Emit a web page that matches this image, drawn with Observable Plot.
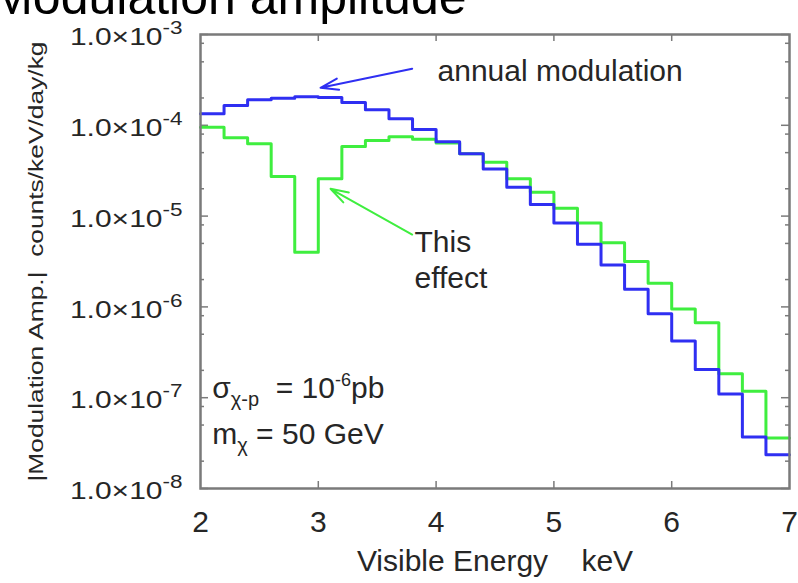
<!DOCTYPE html>
<html><head><meta charset="utf-8">
<script src="https://cdn.jsdelivr.net/npm/d3@7"></script>
<script src="https://cdn.jsdelivr.net/npm/@observablehq/plot@0.6"></script>
<style>
html,body{margin:0;padding:0;background:#fff;overflow:hidden;}
#chart svg{display:block;}
</style></head>
<body><div id="chart"></div>
<script>
// ---- data ----
const binStarts = [2.0,2.2,2.4,2.6,2.8,3.0,3.2,3.4,3.6,3.8,4.0,4.2,4.4,4.6,4.8,5.0,5.2,5.4,5.6,5.8,6.0,6.2,6.4,6.6,6.8];
const binEnd = 7.0;
const annualModulation = [1.34e-4,1.65e-4,1.91e-4,1.99e-4,2.06e-4,2.02e-4,1.78e-4,1.48e-4,1.18e-4,9.0e-5,6.6e-5,4.85e-5,3.3e-5,2.08e-5,1.34e-5,8.4e-6,4.9e-6,2.9e-6,1.56e-6,8.4e-7,4.2e-7,2.05e-7,1.1e-7,3.7e-8,2.35e-8];
const thisEffect = [9.5e-5,7.3e-5,6.25e-5,2.73e-5,4.0e-6,2.58e-5,5.85e-5,6.8e-5,7.5e-5,7.0e-5,6.4e-5,4.85e-5,3.93e-5,2.58e-5,1.83e-5,1.22e-5,8.4e-6,5.1e-6,3.16e-6,1.82e-6,9.5e-7,6.7e-7,1.83e-7,1.18e-7,3.6e-8];
const xTicks = [2,3,4,5,6,7];
const xInnerTicks = [3,4,5,6];
const yDecades = [1e-3,1e-4,1e-5,1e-6,1e-7,1e-8];
const yTickLabels = ["1.0×10^{-3}","1.0×10^{-4}","1.0×10^{-5}","1.0×10^{-6}","1.0×10^{-7}","1.0×10^{-8}"];
const yMinorMultipliers = [2,5,8];
const titleText = "Modulation amplitude";
const xLabel = "Visible Energy\u00a0\u00a0\u00a0\u00a0keV";
const yLabel = "|Modulation Amp.|\u00a0\u00a0counts/keV/day/kg";
const paramLines = ["σ_{χ-p}\u00a0\u00a0= 10^{-6}pb", "m_{χ} = 50 GeV"];
const paramX = [2.10, 2.10];
const paramY = [1.0e-7, 3.13e-8];
const annualLabel = {x: 4.012, y: 3.11e-4, text: "annual modulation"};
const effectLabel = {x: 3.817, y: 1.6e-6, text: "This\neffect"};
const annualArrow = {x1: 3.797, y1: 4.19e-4, x2: 3.019, y2: 2.59e-4};
const effectArrow = {x1: 3.797, y1: 6.27e-6, x2: 3.104, y2: 2.0e-5};

// ---- derived tables ----
const stepData = (vals) => binStarts.map((x, i) => ({x, y: vals[i]})).concat([{x: binEnd, y: vals[vals.length - 1]}]);
const blueData = stepData(annualModulation);
const greenData = stepData(thisEffect);
const minorY = yDecades.slice(1).flatMap(d => yMinorMultipliers.map(m => d * m));
const yTickTable = yDecades.map((v, i) => ({v, label: yTickLabels[i]}));
const params = paramLines.map((t, i) => ({x: paramX[i], y: paramY[i], t}));

const W = 798, H = 583, ML = 200, MR = 9, MT = 34, MB = 95;
const FW = W - ML - MR, FH = H - MT - MB;
const BLUE = "#2f2ff2", GREEN = "#3fee3f", AX = "#7a7a7a", TXT = "#262626";
const FONT = "'Liberation Sans', Arial, Helvetica, sans-serif";

const chart = Plot.plot({
  width: W, height: H,
  marginLeft: ML, marginRight: MR, marginTop: MT, marginBottom: MB,
  x: {domain: [2, 7], axis: null},
  y: {type: "log", domain: [1e-8, 1e-3], axis: null},
  style: {fontFamily: FONT, color: TXT, background: "white", overflow: "visible"},
  marks: [
    Plot.ruleY(minorY, {insetRight: FW - 4, stroke: AX, strokeWidth: 1.5}),
    Plot.ruleY(minorY, {insetLeft: FW - 4, stroke: AX, strokeWidth: 1.5}),
    Plot.ruleY(yDecades, {insetRight: FW - 8, stroke: AX, strokeWidth: 1.5}),
    Plot.ruleY(yDecades, {insetLeft: FW - 8, stroke: AX, strokeWidth: 1.5}),
    Plot.ruleX(xInnerTicks, {insetTop: FH - 7, stroke: AX, strokeWidth: 1.5}),
    Plot.ruleX(xInnerTicks, {insetBottom: FH - 7, stroke: AX, strokeWidth: 1.5}),
    Plot.line(greenData, {x: "x", y: "y", curve: "step-after", stroke: GREEN, strokeWidth: 3}),
    Plot.line(blueData, {x: "x", y: "y", curve: "step-after", stroke: BLUE, strokeWidth: 3}),
    Plot.frame({stroke: AX, strokeWidth: 2.5}),
    Plot.arrow([annualArrow], {x1: "x1", y1: "y1", x2: "x2", y2: "y2", stroke: BLUE, strokeWidth: 2, headLength: 14, headAngle: 35}),
    Plot.arrow([effectArrow], {x1: "x1", y1: "y1", x2: "x2", y2: "y2", stroke: GREEN, strokeWidth: 2, headLength: 14, headAngle: 35}),
    Plot.text([annualLabel], {x: "x", y: "y", text: "text", textAnchor: "start", lineAnchor: "bottom", fontSize: 30, fill: TXT}),
    Plot.text([effectLabel], {x: "x", y: "y", text: "text", textAnchor: "start", lineAnchor: "bottom", lineHeight: 1.2, fontSize: 30, fill: TXT}),
    Plot.text(params, {x: "x", y: "y", text: "t", textAnchor: "start", lineAnchor: "bottom", fontSize: 30, fill: TXT}),
    Plot.text(yTickTable, {y: "v", text: "label", frameAnchor: "left", dx: -18, dy: 3, textAnchor: "end", fontSize: 24, fill: TXT}),
    Plot.text(xTicks, {x: d => d, text: d => String(d), frameAnchor: "bottom", dy: 22, lineAnchor: "top", fontSize: 30, fill: TXT}),
    Plot.text([xLabel], {frameAnchor: "bottom", dy: 82, lineAnchor: "bottom", textAnchor: "middle", fontSize: 30, fill: TXT}),
    Plot.text([yLabel], {frameAnchor: "left", dx: -164, rotate: -90, textAnchor: "middle", fontSize: 21, fill: TXT}),
    Plot.text([titleText], {frameAnchor: "top-left", dx: 266, dy: -21, textAnchor: "end", lineAnchor: "bottom", fontSize: 50, fill: "#000"})
  ]
});
document.getElementById("chart").appendChild(chart);

// ---- rich text: _{sub} and ^{sup} ----
function setRich(el, str, o) {
  while (el.firstChild) el.removeChild(el.firstChild);
  const parts = str.split(/(_\{[^}]*\}|\^\{[^}]*\})/).filter(s => s);
  let shift = 0;
  for (const p of parts) {
    let content = p, target = 0, size = null;
    if (p.startsWith("_{")) { content = p.slice(2, -1); target = o.subShift; size = o.subSize; }
    else if (p.startsWith("^{")) { content = p.slice(2, -1); target = -o.supShift; size = o.supSize; }
    const ts = document.createElementNS("http://www.w3.org/2000/svg", "tspan");
    ts.textContent = content;
    if (target - shift !== 0) ts.setAttribute("dy", target - shift);
    if (size) ts.setAttribute("font-size", size);
    el.appendChild(ts);
    shift = target;
  }
}
chart.querySelectorAll("text").forEach(el => {
  const s = el.textContent;
  if (yTickLabels.includes(s)) {
    setRich(el, s, {supSize: 18, supShift: 11});
    const tr = el.getAttribute("transform") || "";
    el.setAttribute("transform", tr + " scale(1.25,1)");
  } else if (paramLines.includes(s)) {
    setRich(el, s, {subSize: 20, subShift: 8, supSize: 18, supShift: 12});
  } else if (s === yLabel) {
    el.setAttribute("textLength", 440);
    el.setAttribute("lengthAdjust", "spacingAndGlyphs");
  }
});
</script>
</body></html>
